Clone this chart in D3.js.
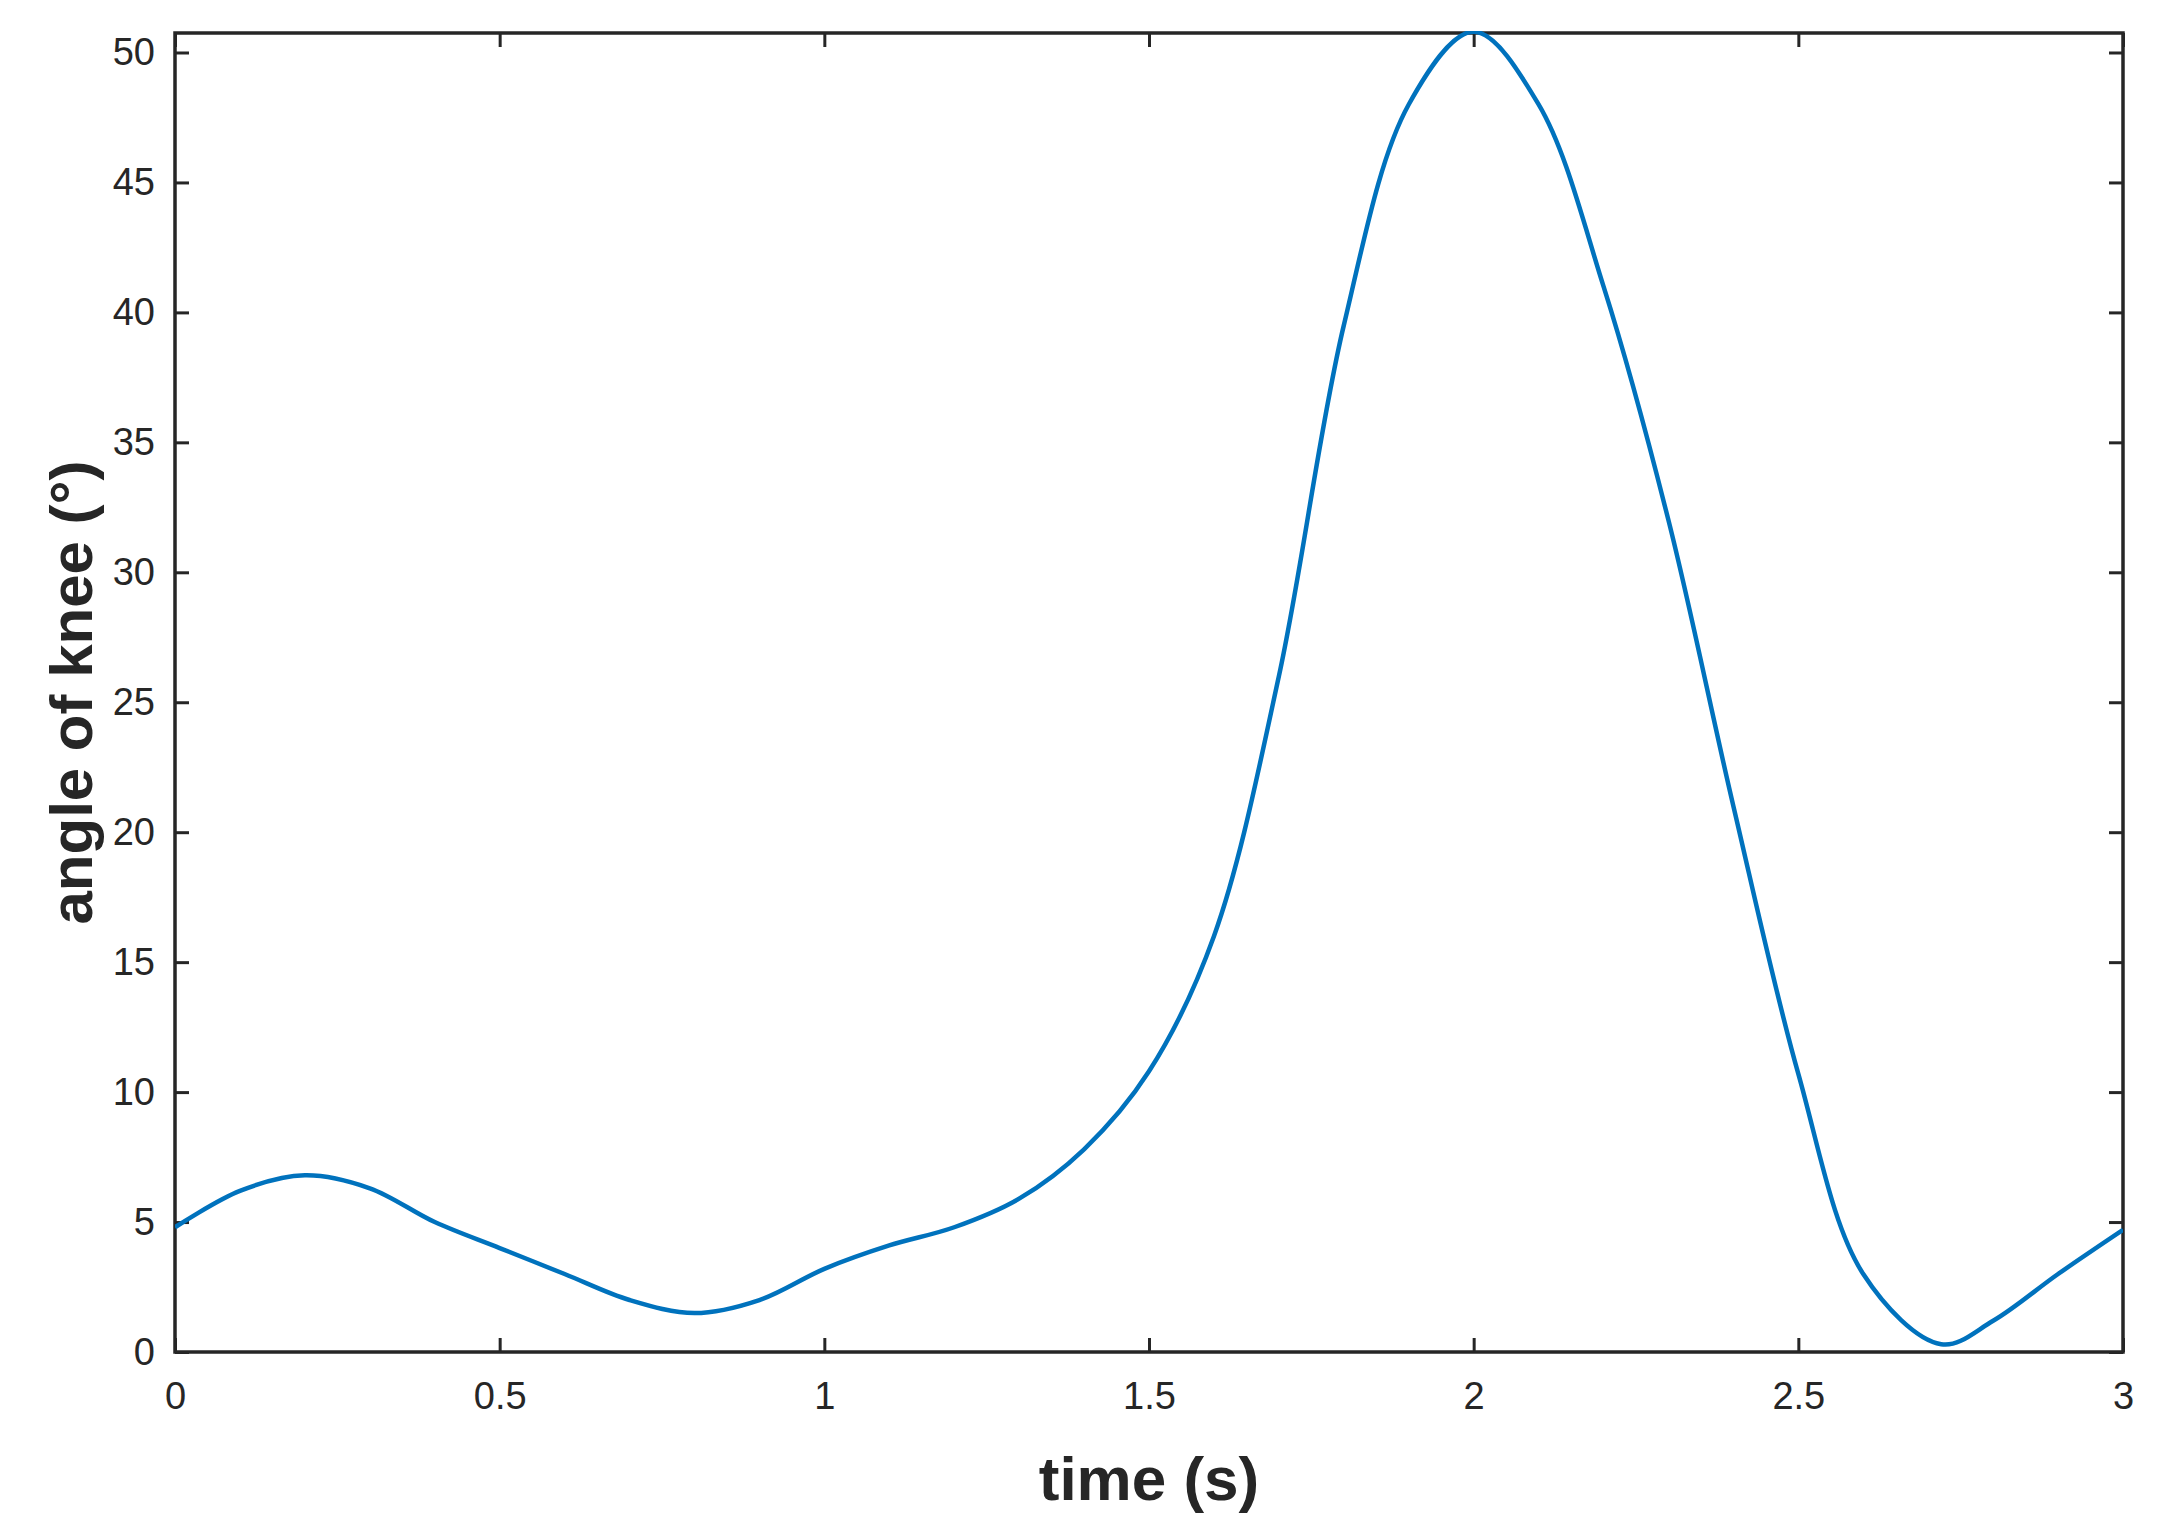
<!DOCTYPE html>
<html><head><meta charset="utf-8">
<script src="https://cdn.jsdelivr.net/npm/d3@7"></script>
<style>body{margin:0;background:#fff}</style></head>
<body><svg id="c" width="2164" height="1520"></svg>
<script>
const times=[0,0.1,0.2,0.3,0.4,0.5,0.6,0.7,0.8,0.9,1.0,1.1,1.2,1.3,1.4,1.5,1.6,1.7,1.8,1.9,2.0,2.1,2.2,2.3,2.4,2.5,2.6,2.72,2.8,2.9,3.0];
const angles=[4.8,6.2,6.8,6.3,5.0,4.0,3.0,2.0,1.5,2.0,3.2,4.1,4.8,5.9,7.8,10.8,16,26,39.5,48,50.8,48,41,32,21,10.7,3,0.3,1.2,3.0,4.7];
const xTicks=[0,0.5,1,1.5,2,2.5,3];
const yTicks=[0,5,10,15,20,25,30,35,40,45,50];
const L=175,R=2123,T=33,B=1352;
const svg=d3.select("#c");
const x=d3.scaleLinear().domain([0,3]).range([L,R]);
const y=d3.scaleLinear().domain([0,50.75]).range([B,T]);
const font="Liberation Sans Narrow, Liberation Sans, Arial, sans-serif";
const ax=(g)=>g.call(s=>s.select(".domain").remove()).selectAll("text").attr("font-family",font).attr("font-size",38).attr("fill","#262626");
svg.append("g").attr("transform",`translate(0,${B})`).call(d3.axisBottom(x).tickValues(xTicks).tickFormat(d3.format("")).tickSizeInner(-14).tickPadding(30)).call(ax);
svg.append("g").attr("transform",`translate(0,${T})`).call(d3.axisTop(x).tickValues(xTicks).tickFormat("").tickSizeInner(-14)).call(s=>s.select(".domain").remove());
svg.append("g").attr("transform",`translate(${L},0)`).call(d3.axisLeft(y).tickValues(yTicks).tickSizeInner(-14).tickPadding(20)).call(ax);
svg.append("g").attr("transform",`translate(${R},0)`).call(d3.axisRight(y).tickValues(yTicks).tickFormat("").tickSizeInner(-14)).call(s=>s.select(".domain").remove());
svg.selectAll(".tick line").attr("stroke","#262626").attr("stroke-width",3);
svg.append("rect").attr("x",L).attr("y",T).attr("width",R-L).attr("height",B-T).attr("fill","none").attr("stroke","#262626").attr("stroke-width",3.5);
const line=d3.line().x((d,i)=>x(times[i])).y(d=>y(d)).curve(d3.curveCatmullRom.alpha(0.5));
svg.append("defs").append("clipPath").attr("id","cp").append("rect").attr("x",L).attr("y",T-2).attr("width",R-L).attr("height",B-T+2);
svg.append("path").datum(angles).attr("d",line).attr("fill","none").attr("stroke","#0072BD").attr("stroke-width",4.5).attr("clip-path","url(#cp)");
svg.append("text").attr("x",(L+R)/2).attr("y",1500).attr("text-anchor","middle").attr("font-family","Liberation Sans, Arial, sans-serif").attr("font-weight","bold").attr("font-size",62).attr("fill","#262626").text("time (s)");
svg.append("text").attr("transform",`translate(92,${(T+B)/2}) rotate(-90)`).attr("text-anchor","middle").attr("font-family","Liberation Sans, Arial, sans-serif").attr("font-weight","bold").attr("font-size",60).attr("fill","#262626").text("angle of knee (°)");
</script></body></html>
